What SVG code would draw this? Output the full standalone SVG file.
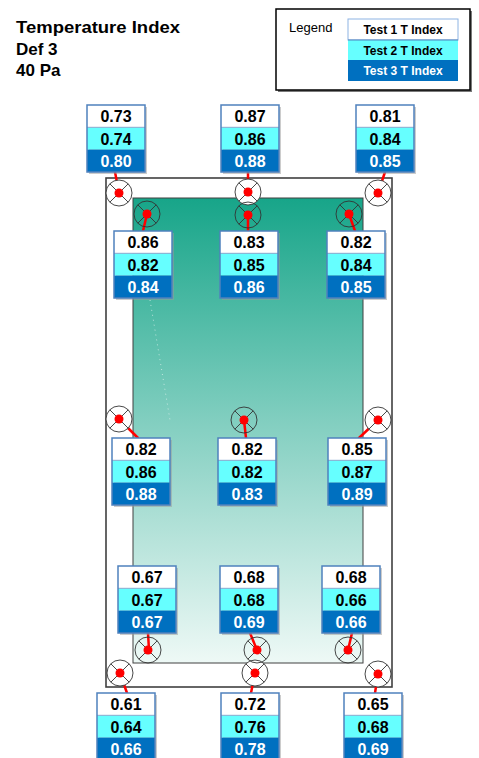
<svg xmlns="http://www.w3.org/2000/svg" width="479" height="758" viewBox="0 0 479 758">
<style>
.t{font-family:"Liberation Sans",Arial,sans-serif;font-weight:bold;}
.v{font-family:"Liberation Sans",Arial,sans-serif;font-weight:bold;font-size:16px;text-anchor:middle;}
.wv{fill:#fff;}
.r1{fill:#ffffff;}
.r2{fill:#66ffff;}
.r3{fill:#0070c0;}
.bx{fill:none;stroke:#4f81bd;stroke-width:1.5;}
.sh{fill:#9a9a9a;opacity:0.5;}
.sep{stroke:#8eaad0;stroke-width:1;}
.sen{stroke:#333;stroke-width:0.9;}
.fw{fill:#fff;}
.fn{fill:none;}
.rl{stroke:#ff0000;stroke-width:2.5;stroke-linecap:round;}
.dot{fill:#ff0000;}
</style>
<defs>
<linearGradient id="glass" x1="0" y1="0" x2="0" y2="1">
<stop offset="0" stop-color="#17a589"/>
<stop offset="0.5" stop-color="#86d0c2"/>
<stop offset="1" stop-color="#eef9f6"/>
</linearGradient>
<g id="cross">
<line x1="-9.2" y1="-9.2" x2="9.2" y2="9.2"/>
<line x1="-9.2" y1="9.2" x2="9.2" y2="-9.2"/>
</g>
</defs>
<rect width="479" height="758" fill="#fff"/>
<g id="title">
<text class="t" x="16" y="33" font-size="17" textLength="164" lengthAdjust="spacingAndGlyphs">Temperature Index</text>
<text class="t" x="16" y="55" font-size="17">Def 3</text>
<text class="t" x="16" y="76" font-size="17">40 Pa</text>
</g>
<g id="legend">
<rect x="278" y="11" width="194" height="81" fill="#7a7a7a"/>
<rect x="276" y="9" width="194" height="81" fill="#fff" stroke="#000" stroke-width="1.5"/>
<text x="289" y="32" font-family="Liberation Sans,Arial,sans-serif" font-size="13">Legend</text>
<rect x="348" y="19" width="110" height="21" class="r1" stroke="#8eb4e3" stroke-width="1"/>
<rect x="348" y="40" width="110" height="20" class="r2"/>
<rect x="348" y="60" width="110" height="21" class="r3"/>
<line x1="348" y1="40" x2="458" y2="40" stroke="#4f81bd" stroke-width="1"/>
<text class="t" x="403" y="34" font-size="12" text-anchor="middle">Test 1 T Index</text>
<text class="t" x="403" y="55" font-size="12" text-anchor="middle">Test 2 T Index</text>
<text class="t" x="403" y="75" font-size="12" text-anchor="middle" fill="#fff">Test 3 T Index</text>
</g>
<g id="frame">
<rect x="106" y="178" width="286" height="509" fill="#fff" stroke="#404040" stroke-width="1.6"/>
</g>
<g id="glass-pane">
<rect x="133" y="198" width="230" height="465" fill="url(#glass)" stroke="#404040" stroke-width="1"/>
<line x1="150" y1="300" x2="170" y2="420" stroke="#fff" stroke-width="1" stroke-dasharray="1 4" opacity="0.6"/>
</g>
<g id="connectors">
<line class="rl" x1="115" y1="172" x2="119" y2="193"/>
<line class="rl" x1="248" y1="172" x2="248" y2="192"/>
<line class="rl" x1="385" y1="172" x2="378" y2="193"/>
<line class="rl" x1="147" y1="214" x2="143" y2="231"/>
<line class="rl" x1="248" y1="215" x2="248" y2="231"/>
<line class="rl" x1="349" y1="214" x2="355" y2="231"/>
<line class="rl" x1="119" y1="419" x2="138" y2="438"/>
<line class="rl" x1="244" y1="420" x2="246" y2="438"/>
<line class="rl" x1="378" y1="420" x2="359" y2="438"/>
<line class="rl" x1="148" y1="633" x2="149" y2="650"/>
<line class="rl" x1="250" y1="633" x2="257" y2="650"/>
<line class="rl" x1="352" y1="633" x2="348" y2="650"/>
<line class="rl" x1="120" y1="673" x2="127" y2="693"/>
<line class="rl" x1="255" y1="673" x2="251" y2="693"/>
<line class="rl" x1="378" y1="674" x2="375" y2="693"/>
</g>
<g id="sensors">
<g id="s-f-tl" transform="translate(119,193)"><circle r="13" class="sen fw"/><use href="#cross" class="sen"/><circle r="4.5" class="dot"/></g>
<g id="s-f-tm" transform="translate(248,192)"><circle r="13" class="sen fw"/><use href="#cross" class="sen"/><circle r="4.5" class="dot"/></g>
<g id="s-f-tr" transform="translate(378,193)"><circle r="13" class="sen fw"/><use href="#cross" class="sen"/><circle r="4.5" class="dot"/></g>
<g id="s-f-ml" transform="translate(119,419)"><circle r="13" class="sen fw"/><use href="#cross" class="sen"/><circle r="4.5" class="dot"/></g>
<g id="s-f-mr" transform="translate(378,420)"><circle r="13" class="sen fw"/><use href="#cross" class="sen"/><circle r="4.5" class="dot"/></g>
<g id="s-f-bl" transform="translate(120,673)"><circle r="13" class="sen fw"/><use href="#cross" class="sen"/><circle r="4.5" class="dot"/></g>
<g id="s-f-bm" transform="translate(255,673)"><circle r="13" class="sen fw"/><use href="#cross" class="sen"/><circle r="4.5" class="dot"/></g>
<g id="s-f-br" transform="translate(378,674)"><circle r="13" class="sen fw"/><use href="#cross" class="sen"/><circle r="4.5" class="dot"/></g>
<g id="s-g-t1" transform="translate(147,214)"><circle r="13" class="sen fn"/><use href="#cross" class="sen"/><circle r="4.5" class="dot"/></g>
<g id="s-g-t2" transform="translate(248,215)"><circle r="13" class="sen fn"/><use href="#cross" class="sen"/><circle r="4.5" class="dot"/></g>
<g id="s-g-t3" transform="translate(349,214)"><circle r="13" class="sen fn"/><use href="#cross" class="sen"/><circle r="4.5" class="dot"/></g>
<g id="s-g-m" transform="translate(244,420)"><circle r="13" class="sen fn"/><use href="#cross" class="sen"/><circle r="4.5" class="dot"/></g>
<g id="s-g-b1" transform="translate(148,650)"><circle r="13" class="sen fn"/><use href="#cross" class="sen"/><circle r="4.5" class="dot"/></g>
<g id="s-g-b2" transform="translate(257,650)"><circle r="13" class="sen fn"/><use href="#cross" class="sen"/><circle r="4.5" class="dot"/></g>
<g id="s-g-b3" transform="translate(348,650)"><circle r="13" class="sen fn"/><use href="#cross" class="sen"/><circle r="4.5" class="dot"/></g>
</g>
<defs>
<g id="boxbase">
<rect x="2" y="2" width="58" height="67" class="sh"/>
<rect x="0" y="0" width="58" height="22.3" class="r1"/>
<rect x="0" y="22.3" width="58" height="22.3" class="r2"/>
<rect x="0" y="44.6" width="58" height="22.4" class="r3"/>
<line x1="0" y1="22.3" x2="58" y2="22.3" class="sep"/>
<rect x="0" y="0" width="58" height="67" class="bx"/>
</g>
</defs>
<g id="box-tl" transform="translate(87,105)"><use href="#boxbase"/><text class="v" x="29" y="17">0.73</text><text class="v" x="29" y="39.5">0.74</text><text class="v wv" x="29" y="62">0.80</text></g>
<g id="box-tm" transform="translate(221,105)"><use href="#boxbase"/><text class="v" x="29" y="17">0.87</text><text class="v" x="29" y="39.5">0.86</text><text class="v wv" x="29" y="62">0.88</text></g>
<g id="box-tr" transform="translate(356,105)"><use href="#boxbase"/><text class="v" x="29" y="17">0.81</text><text class="v" x="29" y="39.5">0.84</text><text class="v wv" x="29" y="62">0.85</text></g>
<g id="box-g1" transform="translate(114,231)"><use href="#boxbase"/><text class="v" x="29" y="17">0.86</text><text class="v" x="29" y="39.5">0.82</text><text class="v wv" x="29" y="62">0.84</text></g>
<g id="box-g2" transform="translate(220,231)"><use href="#boxbase"/><text class="v" x="29" y="17">0.83</text><text class="v" x="29" y="39.5">0.85</text><text class="v wv" x="29" y="62">0.86</text></g>
<g id="box-g3" transform="translate(327,231)"><use href="#boxbase"/><text class="v" x="29" y="17">0.82</text><text class="v" x="29" y="39.5">0.84</text><text class="v wv" x="29" y="62">0.85</text></g>
<g id="box-ml" transform="translate(112,438)"><use href="#boxbase"/><text class="v" x="29" y="17">0.82</text><text class="v" x="29" y="39.5">0.86</text><text class="v wv" x="29" y="62">0.88</text></g>
<g id="box-mm" transform="translate(218,438)"><use href="#boxbase"/><text class="v" x="29" y="17">0.82</text><text class="v" x="29" y="39.5">0.82</text><text class="v wv" x="29" y="62">0.83</text></g>
<g id="box-mr" transform="translate(328,438)"><use href="#boxbase"/><text class="v" x="29" y="17">0.85</text><text class="v" x="29" y="39.5">0.87</text><text class="v wv" x="29" y="62">0.89</text></g>
<g id="box-l1" transform="translate(118,566)"><use href="#boxbase"/><text class="v" x="29" y="17">0.67</text><text class="v" x="29" y="39.5">0.67</text><text class="v wv" x="29" y="62">0.67</text></g>
<g id="box-l2" transform="translate(220,566)"><use href="#boxbase"/><text class="v" x="29" y="17">0.68</text><text class="v" x="29" y="39.5">0.68</text><text class="v wv" x="29" y="62">0.69</text></g>
<g id="box-l3" transform="translate(322,566)"><use href="#boxbase"/><text class="v" x="29" y="17">0.68</text><text class="v" x="29" y="39.5">0.66</text><text class="v wv" x="29" y="62">0.66</text></g>
<g id="box-bl" transform="translate(97,693)"><use href="#boxbase"/><text class="v" x="29" y="17">0.61</text><text class="v" x="29" y="39.5">0.64</text><text class="v wv" x="29" y="62">0.66</text></g>
<g id="box-bm" transform="translate(221,693)"><use href="#boxbase"/><text class="v" x="29" y="17">0.72</text><text class="v" x="29" y="39.5">0.76</text><text class="v wv" x="29" y="62">0.78</text></g>
<g id="box-br" transform="translate(344,693)"><use href="#boxbase"/><text class="v" x="29" y="17">0.65</text><text class="v" x="29" y="39.5">0.68</text><text class="v wv" x="29" y="62">0.69</text></g>
</svg>
